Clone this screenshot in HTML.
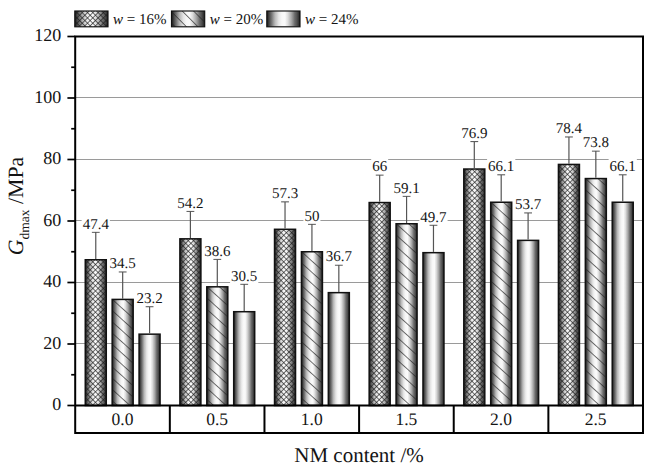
<!DOCTYPE html><html><head><meta charset="utf-8"><style>html,body{margin:0;padding:0;background:#fff;}svg{display:block;}text{font-family:"Liberation Serif",serif;fill:#141414;stroke:#141414;stroke-width:0px;text-rendering:geometricPrecision;}</style></head><body>
<svg width="659" height="471" viewBox="0 0 659 471">
<defs>
<linearGradient id="g" x1="0" y1="0" x2="1" y2="0"><stop offset="0" stop-color="#1a1a1a"/><stop offset="0.042" stop-color="#333"/><stop offset="0.094" stop-color="#555"/><stop offset="0.149" stop-color="#777"/><stop offset="0.198" stop-color="#999"/><stop offset="0.252" stop-color="#bbb"/><stop offset="0.307" stop-color="#d0d0d0"/><stop offset="0.356" stop-color="#e4e4e4"/><stop offset="0.411" stop-color="#f0f0f0"/><stop offset="0.46" stop-color="#f8f8f8"/><stop offset="0.55" stop-color="#fafafa"/><stop offset="0.579" stop-color="#eee"/><stop offset="0.634" stop-color="#ddd"/><stop offset="0.683" stop-color="#c4c4c4"/><stop offset="0.738" stop-color="#aaa"/><stop offset="0.792" stop-color="#8a8a8a"/><stop offset="0.842" stop-color="#6a6a6a"/><stop offset="0.896" stop-color="#555"/><stop offset="0.95" stop-color="#3a3a3a"/><stop offset="1" stop-color="#1a1a1a"/></linearGradient>
<pattern id="crossp" width="3.75" height="3.75" patternUnits="userSpaceOnUse" patternTransform="rotate(45)"><rect x="0" y="2.845" width="3.75" height="0.7" fill="#1a1a1a" fill-opacity="0.9"/><rect x="2.845" y="0" width="0.7" height="3.75" fill="#1a1a1a" fill-opacity="0.9"/></pattern>
<pattern id="diagp" width="9.38" height="9.38" patternUnits="userSpaceOnUse" patternTransform="rotate(38.57)"><rect x="0" y="3.64" width="9.38" height="0.7" fill="#222" fill-opacity="0.9"/></pattern>
<pattern id="diagl" width="8.061" height="8.061" patternUnits="userSpaceOnUse" patternTransform="translate(171.7 11.31) rotate(45)"><rect x="0" y="0" width="8.061" height="0.7" fill="#222" fill-opacity="0.9"/></pattern>
</defs>
<line x1="75.2" y1="343.5" x2="643.0" y2="343.5" stroke="#9a9a9a" stroke-width="1"/>
<line x1="75.2" y1="282.5" x2="643.0" y2="282.5" stroke="#9a9a9a" stroke-width="1"/>
<line x1="75.2" y1="220.5" x2="643.0" y2="220.5" stroke="#9a9a9a" stroke-width="1"/>
<line x1="75.2" y1="159.5" x2="643.0" y2="159.5" stroke="#9a9a9a" stroke-width="1"/>
<line x1="75.2" y1="97.5" x2="643.0" y2="97.5" stroke="#9a9a9a" stroke-width="1"/>
<rect x="85.27" y="259.75" width="21.0" height="145.75" fill="url(#g)"/>
<rect x="85.27" y="259.75" width="21.0" height="145.75" fill="url(#crossp)"/>
<rect x="85.27" y="259.75" width="21.0" height="145.75" fill="none" stroke="#111" stroke-width="1.5"/>
<line x1="95.77" y1="232.07" x2="95.77" y2="259.00" stroke="#555" stroke-width="1.2"/>
<line x1="91.87" y1="232.07" x2="99.67" y2="232.07" stroke="#555" stroke-width="1.5"/>
<rect x="179.90" y="238.83" width="21.0" height="166.67" fill="url(#g)"/>
<rect x="179.90" y="238.83" width="21.0" height="166.67" fill="url(#crossp)"/>
<rect x="179.90" y="238.83" width="21.0" height="166.67" fill="none" stroke="#111" stroke-width="1.5"/>
<line x1="190.40" y1="211.16" x2="190.40" y2="238.08" stroke="#555" stroke-width="1.2"/>
<line x1="186.50" y1="211.16" x2="194.30" y2="211.16" stroke="#555" stroke-width="1.5"/>
<rect x="274.53" y="229.30" width="21.0" height="176.20" fill="url(#g)"/>
<rect x="274.53" y="229.30" width="21.0" height="176.20" fill="url(#crossp)"/>
<rect x="274.53" y="229.30" width="21.0" height="176.20" fill="none" stroke="#111" stroke-width="1.5"/>
<line x1="285.03" y1="201.63" x2="285.03" y2="228.55" stroke="#555" stroke-width="1.2"/>
<line x1="281.13" y1="201.63" x2="288.93" y2="201.63" stroke="#555" stroke-width="1.5"/>
<rect x="369.17" y="202.55" width="21.0" height="202.95" fill="url(#g)"/>
<rect x="369.17" y="202.55" width="21.0" height="202.95" fill="url(#crossp)"/>
<rect x="369.17" y="202.55" width="21.0" height="202.95" fill="none" stroke="#111" stroke-width="1.5"/>
<line x1="379.67" y1="174.88" x2="379.67" y2="201.80" stroke="#555" stroke-width="1.2"/>
<line x1="375.77" y1="174.88" x2="383.57" y2="174.88" stroke="#555" stroke-width="1.5"/>
<rect x="463.80" y="169.03" width="21.0" height="236.47" fill="url(#g)"/>
<rect x="463.80" y="169.03" width="21.0" height="236.47" fill="url(#crossp)"/>
<rect x="463.80" y="169.03" width="21.0" height="236.47" fill="none" stroke="#111" stroke-width="1.5"/>
<line x1="474.30" y1="141.36" x2="474.30" y2="168.28" stroke="#555" stroke-width="1.2"/>
<line x1="470.40" y1="141.36" x2="478.20" y2="141.36" stroke="#555" stroke-width="1.5"/>
<rect x="558.43" y="164.42" width="21.0" height="241.08" fill="url(#g)"/>
<rect x="558.43" y="164.42" width="21.0" height="241.08" fill="url(#crossp)"/>
<rect x="558.43" y="164.42" width="21.0" height="241.08" fill="none" stroke="#111" stroke-width="1.5"/>
<line x1="568.93" y1="136.74" x2="568.93" y2="163.67" stroke="#555" stroke-width="1.2"/>
<line x1="565.03" y1="136.74" x2="572.83" y2="136.74" stroke="#555" stroke-width="1.5"/>
<rect x="112.17" y="299.41" width="21.0" height="106.09" fill="url(#g)"/>
<defs><pattern id="dp0" width="8.375" height="8.375" patternUnits="userSpaceOnUse" patternTransform="translate(112.92 299.34) rotate(42.0)"><rect x="0" y="0" width="8.375" height="0.7" fill="#222" fill-opacity="0.9"/></pattern></defs>
<rect x="112.17" y="299.41" width="21.0" height="106.09" fill="url(#dp0)"/>
<rect x="112.17" y="299.41" width="21.0" height="106.09" fill="none" stroke="#111" stroke-width="1.5"/>
<line x1="122.67" y1="271.74" x2="122.67" y2="298.66" stroke="#555" stroke-width="1.2"/>
<line x1="118.77" y1="271.74" x2="126.57" y2="271.74" stroke="#555" stroke-width="1.5"/>
<rect x="206.80" y="286.81" width="21.0" height="118.69" fill="url(#g)"/>
<defs><pattern id="dp1" width="8.375" height="8.375" patternUnits="userSpaceOnUse" patternTransform="translate(207.55 286.73) rotate(42.0)"><rect x="0" y="0" width="8.375" height="0.7" fill="#222" fill-opacity="0.9"/></pattern></defs>
<rect x="206.80" y="286.81" width="21.0" height="118.69" fill="url(#dp1)"/>
<rect x="206.80" y="286.81" width="21.0" height="118.69" fill="none" stroke="#111" stroke-width="1.5"/>
<line x1="217.30" y1="259.13" x2="217.30" y2="286.06" stroke="#555" stroke-width="1.2"/>
<line x1="213.40" y1="259.13" x2="221.20" y2="259.13" stroke="#555" stroke-width="1.5"/>
<rect x="301.43" y="251.75" width="21.0" height="153.75" fill="url(#g)"/>
<defs><pattern id="dp2" width="8.375" height="8.375" patternUnits="userSpaceOnUse" patternTransform="translate(302.18 251.68) rotate(42.0)"><rect x="0" y="0" width="8.375" height="0.7" fill="#222" fill-opacity="0.9"/></pattern></defs>
<rect x="301.43" y="251.75" width="21.0" height="153.75" fill="url(#dp2)"/>
<rect x="301.43" y="251.75" width="21.0" height="153.75" fill="none" stroke="#111" stroke-width="1.5"/>
<line x1="311.93" y1="224.07" x2="311.93" y2="251.00" stroke="#555" stroke-width="1.2"/>
<line x1="308.03" y1="224.07" x2="315.83" y2="224.07" stroke="#555" stroke-width="1.5"/>
<rect x="396.07" y="223.77" width="21.0" height="181.73" fill="url(#g)"/>
<defs><pattern id="dp3" width="8.375" height="8.375" patternUnits="userSpaceOnUse" patternTransform="translate(396.82 223.70) rotate(42.0)"><rect x="0" y="0" width="8.375" height="0.7" fill="#222" fill-opacity="0.9"/></pattern></defs>
<rect x="396.07" y="223.77" width="21.0" height="181.73" fill="url(#dp3)"/>
<rect x="396.07" y="223.77" width="21.0" height="181.73" fill="none" stroke="#111" stroke-width="1.5"/>
<line x1="406.57" y1="196.09" x2="406.57" y2="223.02" stroke="#555" stroke-width="1.2"/>
<line x1="402.67" y1="196.09" x2="410.47" y2="196.09" stroke="#555" stroke-width="1.5"/>
<rect x="490.70" y="202.24" width="21.0" height="203.26" fill="url(#g)"/>
<defs><pattern id="dp4" width="8.375" height="8.375" patternUnits="userSpaceOnUse" patternTransform="translate(491.45 202.17) rotate(42.0)"><rect x="0" y="0" width="8.375" height="0.7" fill="#222" fill-opacity="0.9"/></pattern></defs>
<rect x="490.70" y="202.24" width="21.0" height="203.26" fill="url(#dp4)"/>
<rect x="490.70" y="202.24" width="21.0" height="203.26" fill="none" stroke="#111" stroke-width="1.5"/>
<line x1="501.20" y1="174.57" x2="501.20" y2="201.49" stroke="#555" stroke-width="1.2"/>
<line x1="497.30" y1="174.57" x2="505.10" y2="174.57" stroke="#555" stroke-width="1.5"/>
<rect x="585.33" y="178.56" width="21.0" height="226.94" fill="url(#g)"/>
<defs><pattern id="dp5" width="8.375" height="8.375" patternUnits="userSpaceOnUse" patternTransform="translate(586.08 178.49) rotate(42.0)"><rect x="0" y="0" width="8.375" height="0.7" fill="#222" fill-opacity="0.9"/></pattern></defs>
<rect x="585.33" y="178.56" width="21.0" height="226.94" fill="url(#dp5)"/>
<rect x="585.33" y="178.56" width="21.0" height="226.94" fill="none" stroke="#111" stroke-width="1.5"/>
<line x1="595.83" y1="150.89" x2="595.83" y2="177.81" stroke="#555" stroke-width="1.2"/>
<line x1="591.93" y1="150.89" x2="599.73" y2="150.89" stroke="#555" stroke-width="1.5"/>
<rect x="139.07" y="334.16" width="21.0" height="71.34" fill="url(#g)"/>
<rect x="139.07" y="334.16" width="21.0" height="71.34" fill="none" stroke="#111" stroke-width="1.5"/>
<line x1="149.57" y1="306.49" x2="149.57" y2="333.41" stroke="#555" stroke-width="1.2"/>
<line x1="145.67" y1="306.49" x2="153.47" y2="306.49" stroke="#555" stroke-width="1.5"/>
<rect x="233.70" y="311.71" width="21.0" height="93.79" fill="url(#g)"/>
<rect x="233.70" y="311.71" width="21.0" height="93.79" fill="none" stroke="#111" stroke-width="1.5"/>
<line x1="244.20" y1="284.04" x2="244.20" y2="310.96" stroke="#555" stroke-width="1.2"/>
<line x1="240.30" y1="284.04" x2="248.10" y2="284.04" stroke="#555" stroke-width="1.5"/>
<rect x="328.33" y="292.65" width="21.0" height="112.85" fill="url(#g)"/>
<rect x="328.33" y="292.65" width="21.0" height="112.85" fill="none" stroke="#111" stroke-width="1.5"/>
<line x1="338.83" y1="264.97" x2="338.83" y2="291.90" stroke="#555" stroke-width="1.2"/>
<line x1="334.93" y1="264.97" x2="342.73" y2="264.97" stroke="#555" stroke-width="1.5"/>
<rect x="422.97" y="252.67" width="21.0" height="152.83" fill="url(#g)"/>
<rect x="422.97" y="252.67" width="21.0" height="152.83" fill="none" stroke="#111" stroke-width="1.5"/>
<line x1="433.47" y1="225.00" x2="433.47" y2="251.92" stroke="#555" stroke-width="1.2"/>
<line x1="429.57" y1="225.00" x2="437.37" y2="225.00" stroke="#555" stroke-width="1.5"/>
<rect x="517.60" y="240.37" width="21.0" height="165.13" fill="url(#g)"/>
<rect x="517.60" y="240.37" width="21.0" height="165.13" fill="none" stroke="#111" stroke-width="1.5"/>
<line x1="528.10" y1="212.70" x2="528.10" y2="239.62" stroke="#555" stroke-width="1.2"/>
<line x1="524.20" y1="212.70" x2="532.00" y2="212.70" stroke="#555" stroke-width="1.5"/>
<rect x="612.23" y="202.24" width="21.0" height="203.26" fill="url(#g)"/>
<rect x="612.23" y="202.24" width="21.0" height="203.26" fill="none" stroke="#111" stroke-width="1.5"/>
<line x1="622.73" y1="174.57" x2="622.73" y2="201.49" stroke="#555" stroke-width="1.2"/>
<line x1="618.83" y1="174.57" x2="626.63" y2="174.57" stroke="#555" stroke-width="1.5"/>
<rect x="81.64" y="215.17" width="28.25" height="16.6" fill="#fff"/>
<text x="95.77" y="228.57" font-size="15" text-anchor="middle">47.4</text>
<rect x="176.27" y="194.26" width="28.25" height="16.6" fill="#fff"/>
<text x="190.40" y="207.66" font-size="15" text-anchor="middle">54.2</text>
<rect x="270.91" y="184.73" width="28.25" height="16.6" fill="#fff"/>
<text x="285.03" y="198.13" font-size="15" text-anchor="middle">57.3</text>
<rect x="371.17" y="157.97" width="17.00" height="16.6" fill="#fff"/>
<text x="379.67" y="171.38" font-size="15" text-anchor="middle">66</text>
<rect x="460.17" y="124.46" width="28.25" height="16.6" fill="#fff"/>
<text x="474.30" y="137.86" font-size="15" text-anchor="middle">76.9</text>
<rect x="554.81" y="119.84" width="28.25" height="16.6" fill="#fff"/>
<text x="568.93" y="133.24" font-size="15" text-anchor="middle">78.4</text>
<rect x="108.54" y="254.84" width="28.25" height="16.6" fill="#fff"/>
<text x="122.67" y="268.24" font-size="15" text-anchor="middle">34.5</text>
<rect x="203.17" y="242.23" width="28.25" height="16.6" fill="#fff"/>
<text x="217.30" y="255.63" font-size="15" text-anchor="middle">38.6</text>
<rect x="303.43" y="207.17" width="17.00" height="16.6" fill="#fff"/>
<text x="311.93" y="220.57" font-size="15" text-anchor="middle">50</text>
<rect x="392.44" y="179.19" width="28.25" height="16.6" fill="#fff"/>
<text x="406.57" y="192.59" font-size="15" text-anchor="middle">59.1</text>
<rect x="487.07" y="157.67" width="28.25" height="16.6" fill="#fff"/>
<text x="501.20" y="171.07" font-size="15" text-anchor="middle">66.1</text>
<rect x="581.71" y="133.99" width="28.25" height="16.6" fill="#fff"/>
<text x="595.83" y="147.39" font-size="15" text-anchor="middle">73.8</text>
<rect x="135.44" y="289.59" width="28.25" height="16.6" fill="#fff"/>
<text x="149.57" y="302.99" font-size="15" text-anchor="middle">23.2</text>
<rect x="230.07" y="267.14" width="28.25" height="16.6" fill="#fff"/>
<text x="244.20" y="280.54" font-size="15" text-anchor="middle">30.5</text>
<rect x="324.71" y="248.07" width="28.25" height="16.6" fill="#fff"/>
<text x="338.83" y="261.47" font-size="15" text-anchor="middle">36.7</text>
<rect x="419.34" y="208.10" width="28.25" height="16.6" fill="#fff"/>
<text x="433.47" y="221.50" font-size="15" text-anchor="middle">49.7</text>
<rect x="513.97" y="195.80" width="28.25" height="16.6" fill="#fff"/>
<text x="528.10" y="209.20" font-size="15" text-anchor="middle">53.7</text>
<rect x="608.61" y="157.67" width="28.25" height="16.6" fill="#fff"/>
<text x="622.73" y="171.07" font-size="15" text-anchor="middle">66.1</text>
<path d="M75.2 36.5 H643.0 V433 H75.2 Z" fill="none" stroke="#000" stroke-width="2"/>
<line x1="75.2" y1="405.5" x2="643.0" y2="405.5" stroke="#000" stroke-width="2"/>
<line x1="169.83" y1="405.5" x2="169.83" y2="433" stroke="#000" stroke-width="2"/>
<line x1="264.47" y1="405.5" x2="264.47" y2="433" stroke="#000" stroke-width="2"/>
<line x1="359.10" y1="405.5" x2="359.10" y2="433" stroke="#000" stroke-width="2"/>
<line x1="453.73" y1="405.5" x2="453.73" y2="433" stroke="#000" stroke-width="2"/>
<line x1="548.37" y1="405.5" x2="548.37" y2="433" stroke="#000" stroke-width="2"/>
<line x1="67.4" y1="405.50" x2="75.2" y2="405.50" stroke="#000" stroke-width="1.7"/>
<text x="61.3" y="410.10" font-size="18" text-anchor="end">0</text>
<line x1="67.4" y1="344.00" x2="75.2" y2="344.00" stroke="#000" stroke-width="1.7"/>
<text x="61.3" y="348.60" font-size="18" text-anchor="end">20</text>
<line x1="67.4" y1="282.50" x2="75.2" y2="282.50" stroke="#000" stroke-width="1.7"/>
<text x="61.3" y="287.10" font-size="18" text-anchor="end">40</text>
<line x1="67.4" y1="221.00" x2="75.2" y2="221.00" stroke="#000" stroke-width="1.7"/>
<text x="61.3" y="225.60" font-size="18" text-anchor="end">60</text>
<line x1="67.4" y1="159.50" x2="75.2" y2="159.50" stroke="#000" stroke-width="1.7"/>
<text x="61.3" y="164.10" font-size="18" text-anchor="end">80</text>
<line x1="67.4" y1="98.00" x2="75.2" y2="98.00" stroke="#000" stroke-width="1.7"/>
<text x="61.3" y="102.60" font-size="18" text-anchor="end">100</text>
<line x1="67.4" y1="36.50" x2="75.2" y2="36.50" stroke="#000" stroke-width="1.7"/>
<text x="61.3" y="41.10" font-size="18" text-anchor="end">120</text>
<line x1="71.2" y1="374.75" x2="75.2" y2="374.75" stroke="#000" stroke-width="1.7"/>
<line x1="71.2" y1="313.25" x2="75.2" y2="313.25" stroke="#000" stroke-width="1.7"/>
<line x1="71.2" y1="251.75" x2="75.2" y2="251.75" stroke="#000" stroke-width="1.7"/>
<line x1="71.2" y1="190.25" x2="75.2" y2="190.25" stroke="#000" stroke-width="1.7"/>
<line x1="71.2" y1="128.75" x2="75.2" y2="128.75" stroke="#000" stroke-width="1.7"/>
<line x1="71.2" y1="67.25" x2="75.2" y2="67.25" stroke="#000" stroke-width="1.7"/>
<text x="122.52" y="424.9" font-size="17.5" text-anchor="middle">0.0</text>
<text x="217.15" y="424.9" font-size="17.5" text-anchor="middle">0.5</text>
<text x="311.78" y="424.9" font-size="17.5" text-anchor="middle">1.0</text>
<text x="406.42" y="424.9" font-size="17.5" text-anchor="middle">1.5</text>
<text x="501.05" y="424.9" font-size="17.5" text-anchor="middle">2.0</text>
<text x="595.68" y="424.9" font-size="17.5" text-anchor="middle">2.5</text>
<text x="359" y="461.7" font-size="21" text-anchor="middle">NM content /%</text>
<text transform="translate(23.0 255.2) rotate(-90)" font-size="21.8"><tspan font-style="italic">G</tspan><tspan font-size="13.5" dy="6.2">dmax</tspan><tspan dy="-6.2"> /MPa</tspan></text>
<rect x="74.8" y="11.0" width="33.2" height="15.8" fill="url(#g)"/>
<rect x="74.8" y="11.0" width="33.2" height="15.8" fill="url(#crossp)"/>
<rect x="74.8" y="11.0" width="33.2" height="15.8" fill="none" stroke="#111" stroke-width="1.15"/>
<text x="113.1" y="23.5" font-size="15"><tspan font-style="italic">w</tspan> = 16%</text>
<rect x="171.5" y="11.0" width="33.2" height="15.8" fill="url(#g)"/>
<rect x="171.5" y="11.0" width="33.2" height="15.8" fill="url(#diagl)"/>
<rect x="171.5" y="11.0" width="33.2" height="15.8" fill="none" stroke="#111" stroke-width="1.15"/>
<text x="209.8" y="23.5" font-size="15"><tspan font-style="italic">w</tspan> = 20%</text>
<rect x="266.8" y="11.0" width="33.2" height="15.8" fill="url(#g)"/>
<rect x="266.8" y="11.0" width="33.2" height="15.8" fill="none" stroke="#111" stroke-width="1.15"/>
<text x="305.1" y="23.5" font-size="15"><tspan font-style="italic">w</tspan> = 24%</text>
</svg></body></html>
